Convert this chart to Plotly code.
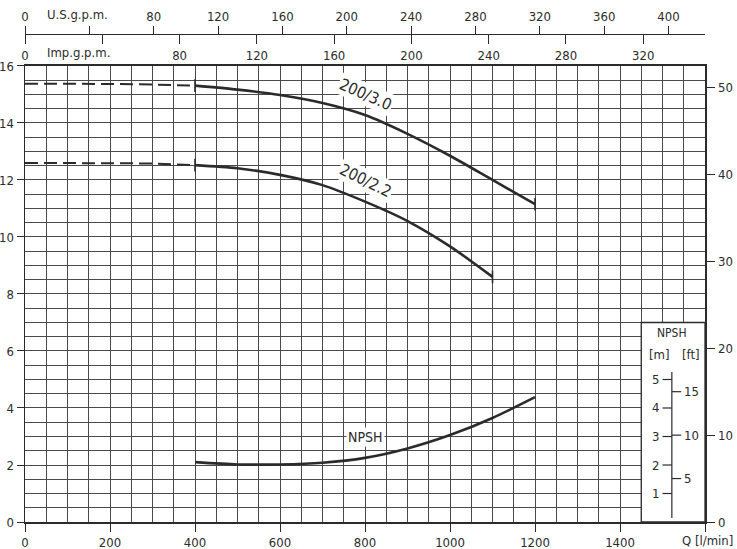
import plotly.graph_objects as go

# ---------------- data ----------------
FT = 0.3048            # m per ft
USG = 3.785411784      # l/min per U.S. gpm
IMPG = 4.54609         # l/min per Imp. gpm

q_dash = [0, 100, 200, 300, 400]
h30_dash = [15.38, 15.38, 15.37, 15.35, 15.31]
h22_dash = [12.60, 12.60, 12.60, 12.58, 12.52]

q30 = [400, 500, 600, 700, 800, 900, 1000, 1100, 1200]
h30 = [15.31, 15.17, 14.98, 14.70, 14.28, 13.62, 12.85, 12.00, 11.15]

q22 = [400, 500, 600, 700, 800, 900, 1000, 1100]
h22 = [12.52, 12.41, 12.18, 11.82, 11.24, 10.56, 9.67, 8.60]

q_npsh = [400, 500, 600, 700, 800, 900, 1000, 1100, 1200]
npsh = [2.10, 2.02, 2.02, 2.08, 2.25, 2.58, 3.05, 3.65, 4.38]

x_ticks = [0, 200, 400, 600, 800, 1000, 1200, 1400, 1600]
x_ticktext = ["0", "200", "400", "600", "800", "1000", "1200", "1400", ""]
x_unit = "Q [l/min]"
y_ticks = [0, 2, 4, 6, 8, 10, 12, 14, 16]
ft_ticks = [0, 10, 20, 30, 40, 50]
us_ticks = [0, 40, 80, 120, 160, 200, 240, 280, 320, 360, 400]
us_text = ["0", "", "80", "120", "160", "200", "240", "280", "320", "360", "400"]
imp_ticks = [0, 40, 80, 120, 160, 200, 240, 280, 320]
imp_text = ["0", "", "80", "120", "160", "200", "240", "280", "320"]
npsh_m_ticks = [1, 2, 3, 4, 5]
npsh_ft_ticks = [5, 10, 15]

# ---------------- style ----------------
INK = "#2b2b2b"
GRID = "#4a4a4a"
FONT = "Liberation Sans Narrow, DejaVu Sans Condensed, sans-serif"
X_MAX = 1600
Y_MAX = 16
DOM_TOP = 0.8736
TOP_AXIS_POS = 0.9349

fig = go.Figure()

line_style = dict(color=INK, width=2.6, shape="spline", smoothing=0.8)
dash_style = dict(color=INK, width=2.0, dash="13px,6px")

fig.add_trace(go.Scatter(x=q_dash, y=h30_dash, mode="lines", line=dash_style))
fig.add_trace(go.Scatter(x=q_dash, y=h22_dash, mode="lines", line=dash_style))
fig.add_trace(go.Scatter(x=q30, y=h30, mode="lines", line=line_style))
fig.add_trace(go.Scatter(x=q22, y=h22, mode="lines", line=line_style))
fig.add_trace(go.Scatter(x=q_npsh, y=npsh, mode="lines", line=line_style))

# end ticks on curves
for qq, hh in ((q30, h30), (q22, h22)):
    fig.add_trace(go.Scatter(
        x=[qq[0], qq[-1]], y=[hh[0], hh[-1]], mode="markers",
        marker=dict(symbol="line-ns", size=9, line=dict(color=INK, width=1.6))))

# dummy traces so secondary axes are drawn
fig.add_trace(go.Scatter(x=[None], y=[None], xaxis="x2", yaxis="y"))
fig.add_trace(go.Scatter(x=[None], y=[None], xaxis="x3", yaxis="y"))
fig.add_trace(go.Scatter(x=[None], y=[None], xaxis="x", yaxis="y2"))

fig.update_traces(showlegend=False, hoverinfo="skip")

tickfont = dict(family=FONT, size=13, color=INK)

fig.update_layout(
    width=737, height=549,
    margin=dict(l=25, r=32, t=0, b=27, autoexpand=False),
    paper_bgcolor="white", plot_bgcolor="white",
    font=dict(family=FONT, size=13, color=INK),
    hovermode=False,
    xaxis=dict(
        range=[0, X_MAX], domain=[0, 1], tickvals=x_ticks, ticktext=x_ticktext,
        ticks="outside", ticklen=8, tickwidth=1, tickcolor=INK,
        showgrid=True, gridcolor=GRID, gridwidth=1,
        minor=dict(dtick=50, tick0=0, showgrid=True, gridcolor=GRID, gridwidth=1, ticks=""),
        showline=True, linecolor=INK, linewidth=1.5, mirror=True,
        zeroline=False, tickfont=tickfont, automargin=False,
    ),
    yaxis=dict(
        range=[0, Y_MAX], domain=[0, DOM_TOP], tickvals=y_ticks,
        ticks="outside", ticklen=7, tickwidth=1, tickcolor=INK,
        showgrid=True, gridcolor=GRID, gridwidth=1,
        minor=dict(dtick=0.5, tick0=0, showgrid=True, gridcolor=GRID, gridwidth=1, ticks=""),
        showline=True, linecolor=INK, linewidth=1.5,
        zeroline=False, tickfont=tickfont, ticklabelstandoff=0, automargin=False,
    ),
    yaxis2=dict(
        range=[0, Y_MAX / FT], domain=[0, DOM_TOP], overlaying="y", side="right",
        anchor="x", tickvals=ft_ticks, ticks="outside", ticklen=8, tickwidth=1,
        tickcolor=INK, showgrid=False, zeroline=False, showline=True,
        linecolor=INK, linewidth=1.5, tickfont=tickfont, ticklabelstandoff=1,
        automargin=False,
    ),
    xaxis2=dict(
        range=[0, X_MAX / USG], overlaying="x", side="top", anchor="free",
        position=TOP_AXIS_POS, tickvals=us_ticks, ticktext=us_text,
        ticks="outside", ticklen=8, tickwidth=1, tickcolor=INK,
        showgrid=False, zeroline=False, showline=True, linecolor=INK, linewidth=1.5,
        tickfont=tickfont, automargin=False,
    ),
    xaxis3=dict(
        range=[0, X_MAX / IMPG], overlaying="x", side="bottom", anchor="free",
        position=TOP_AXIS_POS, tickvals=imp_ticks, ticktext=imp_text,
        ticks="outside", ticklen=9, tickwidth=1, tickcolor=INK,
        showgrid=False, zeroline=False, showline=False,
        tickfont=tickfont, automargin=False,
    ),
)

# x unit label in place of the last tick label
fig.add_annotation(x=1.044, y=-0.0345, xref="paper", yref="paper", text=x_unit,
                   showarrow=False, xanchor="right", yanchor="middle",
                   font=dict(family=FONT, size=13, color=INK))

# NPSH scale box (lower right)
BOX_X0, BOX_X1, BOX_Y1 = 1450, X_MAX, 7.0
SCALE_X = 1522
fig.add_shape(type="rect", xref="x", yref="y", x0=BOX_X0, x1=BOX_X1, y0=0, y1=BOX_Y1,
              fillcolor="white", line=dict(color=INK, width=1.3), layer="above")
fig.add_shape(type="line", xref="x", yref="y", x0=SCALE_X, x1=SCALE_X, y0=0.14, y1=5.26,
              line=dict(color=INK, width=1.2), layer="above")
for m in npsh_m_ticks:
    fig.add_shape(type="line", xref="x", yref="y", x0=SCALE_X - 22, x1=SCALE_X, y0=m, y1=m,
                  line=dict(color=INK, width=1.2), layer="above")
    fig.add_annotation(x=SCALE_X - 26, y=m, xref="x", yref="y", text=str(m),
                       showarrow=False, xanchor="right", yanchor="middle",
                       font=dict(family=FONT, size=13, color=INK))
for f in npsh_ft_ticks:
    fig.add_shape(type="line", xref="x", yref="y", x0=SCALE_X, x1=SCALE_X + 22,
                  y0=f * FT, y1=f * FT, line=dict(color=INK, width=1.2), layer="above")
    fig.add_annotation(x=SCALE_X + 24, y=f * FT, xref="x", yref="y", text=str(f),
                       showarrow=False, xanchor="left", yanchor="middle",
                       font=dict(family=FONT, size=13, color=INK))
fig.add_annotation(x=SCALE_X, y=6.63, xref="x", yref="y", text="NPSH", showarrow=False,
                   font=dict(family=FONT, size=12, color=INK))
fig.add_annotation(x=1494, y=5.86, xref="x", yref="y", text="[m]", showarrow=False,
                   font=dict(family=FONT, size=13, color=INK))
fig.add_annotation(x=1567, y=5.86, xref="x", yref="y", text="[ft]", showarrow=False,
                   font=dict(family=FONT, size=13, color=INK))

# curve labels
fig.add_annotation(x=802, y=15.0, xref="x", yref="y", text="200/3.0", showarrow=False,
                   textangle=24, bgcolor="white", font=dict(family=FONT, size=16, color=INK))
fig.add_annotation(x=802, y=11.98, xref="x", yref="y", text="200/2.2", showarrow=False,
                   textangle=26, bgcolor="white", font=dict(family=FONT, size=16, color=INK))
fig.add_annotation(x=800, y=2.98, xref="x", yref="y", text="NPSH", showarrow=False,
                   bgcolor="white", font=dict(family=FONT, size=14, color=INK))

# unit names for top scales
fig.add_annotation(x=0.029, y=0.973, xref="paper", yref="paper", text="U.S.g.p.m.",
                   showarrow=False, xanchor="left", yanchor="middle",
                   font=dict(family=FONT, size=13, color=INK))
fig.add_annotation(x=0.029, y=0.8985, xref="paper", yref="paper", text="Imp.g.p.m.",
                   showarrow=False, xanchor="left", yanchor="middle",
                   font=dict(family=FONT, size=13, color=INK))

# the page body has a default 8px margin; remove it so the 737x549 figure fills the window
fig.write_html("out.html", config={"displayModeBar": False, "staticPlot": True},
               post_script="document.body.style.margin='0px';")
